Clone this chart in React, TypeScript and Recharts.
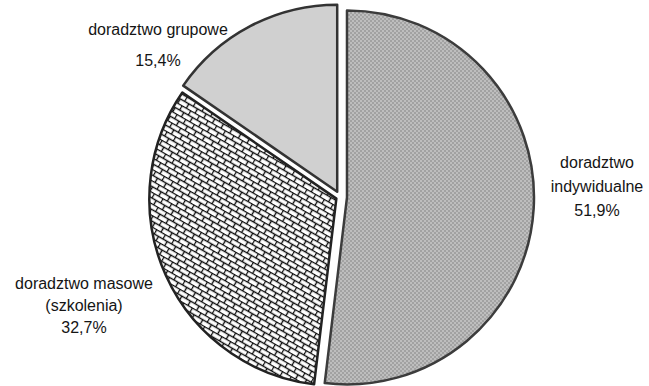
import React from 'react';
import { PieChart, Pie, Cell } from 'recharts';

// ---- data ----
const categories = ['doradztwo indywidualne', 'doradztwo masowe (szkolenia)', 'doradztwo grupowe'];
const shares = [51.9, 32.7, 15.4];
const shareLabels = ['51,9%', '32,7%', '15,4%'];
const labelLines = [['doradztwo', 'indywidualne'], ['doradztwo masowe', '(szkolenia)'], ['doradztwo grupowe']];

// ---- styling / layout ----
const fills = ['url(#dotPat)', 'url(#brickPat)', '#d0d0d0'];
const strokes = ['#3c3c3c', '#222222', '#333333'];
const explode = [7, 4, 6];
const CX = 340;
const CY = 197;
const R = 187;
const labelPos = [
  { x: 597, y: 168, gap: 24 },
  { x: 84, y: 289, gap: 22 },
  { x: 158, y: 35, gap: 31 },
];

const data = categories.map((name, i) => ({ name, value: shares[i] }));
const total = shares.reduce((a, b) => a + b, 0);

// mid angles (clockwise from top), derived from the data
const midAngles = (() => {
  let acc = 0;
  return shares.map((v) => {
    const mid = ((acc + v / 2) / total) * 360;
    acc += v;
    return mid;
  });
})();

const renderLabel = (props: any) => {
  const i = props.index;
  const p = labelPos[i];
  const lines = [...labelLines[i], shareLabels[i]];
  return (
    <text
      key={`lbl-${i}`}
      x={p.x}
      y={p.y}
      textAnchor="middle"
      fill="#151515"
      fontSize={16}
      fontFamily="'Liberation Sans', Arial, sans-serif"
    >
      {lines.map((t, k) => (
        <tspan key={k} x={p.x} y={p.y + k * p.gap}>
          {t}
        </tspan>
      ))}
    </text>
  );
};

export default function App() {
  return (
    <div style={{ position: 'absolute', left: 0, top: 0, background: '#fff' }}>
      <PieChart width={649} height={386} margin={{ top: 0, right: 0, bottom: 0, left: 0 }}>
        <defs>
          <pattern id="dotPat" patternUnits="userSpaceOnUse" width="4" height="4">
            <rect x="0" y="0" width="4" height="4" fill="#a2a2a2" />
            <rect x="0" y="0" width="2" height="2" fill="#bebebe" />
            <rect x="2" y="2" width="2" height="2" fill="#bebebe" />
          </pattern>
          <pattern
            id="brickPat"
            patternUnits="userSpaceOnUse"
            width="10"
            height="10"
            patternTransform="rotate(30)"
          >
            <rect x="0" y="0" width="10" height="10" fill="#ffffff" />
            <line x1="0" y1="0.5" x2="10" y2="0.5" stroke="#0a0a0a" strokeWidth="1.4" />
            <line x1="0" y1="5.5" x2="10" y2="5.5" stroke="#0a0a0a" strokeWidth="1.4" />
            <line x1="0.5" y1="0" x2="0.5" y2="5.5" stroke="#0a0a0a" strokeWidth="1.4" />
            <line x1="5.5" y1="5.5" x2="5.5" y2="10" stroke="#0a0a0a" strokeWidth="1.4" />
          </pattern>
        </defs>
        {shares.map((_, k) => {
          const a = (midAngles[k] * Math.PI) / 180;
          const cx = CX + explode[k] * Math.sin(a);
          const cy = CY - explode[k] * Math.cos(a);
          return (
            <Pie
              key={`pie-${k}`}
              data={data}
              dataKey="value"
              nameKey="name"
              cx={cx}
              cy={cy}
              outerRadius={R}
              innerRadius={0}
              startAngle={90}
              endAngle={-270}
              isAnimationActive={false}
              label={k === 0 ? renderLabel : false}
              labelLine={false}
            >
              {data.map((d, i) => (
                <Cell
                  key={`c-${k}-${i}`}
                  fill={i === k ? fills[i] : 'none'}
                  stroke={i === k ? strokes[i] : 'none'}
                  strokeWidth={i === k ? 2.5 : 0}
                  strokeLinejoin="round"
                />
              ))}
            </Pie>
          );
        })}
      </PieChart>
    </div>
  );
}
